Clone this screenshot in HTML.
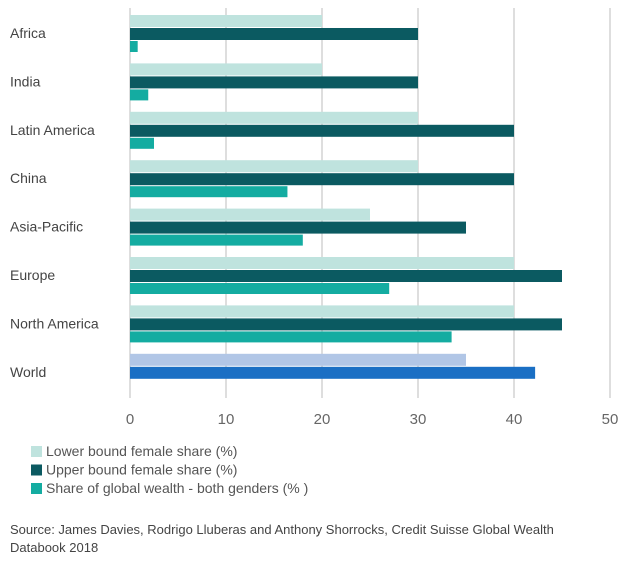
<!DOCTYPE html>
<html><head><meta charset="utf-8"><style>
body{margin:0;background:#fff;font-family:"Liberation Sans",sans-serif;}
svg text{font-family:"Liberation Sans",sans-serif;}
</style></head><body>
<svg id="c" width="636" height="562"></svg>
<script>
const categories=["Africa","India","Latin America","China","Asia-Pacific","Europe","North America","World"];
const lowerBound=[20,20,30,30,25,40,40,35];
const upperBound=[30,30,40,40,35,45,45,42.2];
const globalShare=[0.8,1.9,2.5,16.4,18,27,33.5,null];
const ticks=[0,10,20,30,40,50];
const NS="http://www.w3.org/2000/svg";
const svg=document.getElementById('c');
function x(v){return 130+v*9.6;}
function yc(i){return 33+i*48.4;}
function el(t,a,txt){const e=document.createElementNS(NS,t);for(const k in a)e.setAttribute(k,a[k]);if(txt!=null)e.textContent=txt;svg.appendChild(e);return e;}
ticks.forEach(t=>{
 const g=el('line',{x1:x(t),x2:x(t),y1:8,y2:398,stroke:'#bdbdbd','stroke-width':1});
 
 
 const l=el('text',{x:x(t),y:424,'text-anchor':'middle','font-size':15,fill:'#666'},t);
 
 
});
categories.forEach((c,i)=>{
 const cy=yc(i);
 const world=c==="World";
 const lab=el('text',{x:10,y:cy+5,'font-size':14,fill:'#444'},c);
 
 
 if(world){
  const b1=el('rect',{x:x(0),y:cy-18,width:x(lowerBound[i])-x(0),height:12,fill:'#b1c6e6'});
  
  
  const b2=el('rect',{x:x(0),y:cy-5,width:x(upperBound[i])-x(0),height:12,fill:'#1a6fc4'});
  
  
 } else {
  const b1=el('rect',{x:x(0),y:cy-18,width:x(lowerBound[i])-x(0),height:12,fill:'#bfe3de'});
  
  
  const b2=el('rect',{x:x(0),y:cy-5,width:x(upperBound[i])-x(0),height:12,fill:'#0b5a61'});
  
  
  const b3=el('rect',{x:x(0),y:cy+8,width:x(globalShare[i])-x(0),height:11,fill:'#14aca1'});
  
  
 }
});
const legend=[["Lower bound female share (%)","#bfe3de"],["Upper bound female share (%)","#0b5a61"],["Share of global wealth - both genders (% )","#14aca1"]];
legend.forEach((l,i)=>{
 const y=451+i*18.5;
 const s=el('rect',{x:31,y:y-5,width:11,height:11,fill:l[1]});
 
 
 const t=el('text',{x:46,y:y+5,'font-size':14,fill:'#555'},l[0]);
 
 
});
const s1=el('text',{x:10,y:534,'font-size':13,fill:'#444'},"Source: James Davies, Rodrigo Lluberas and Anthony Shorrocks, Credit Suisse Global Wealth");


const s2=el('text',{x:10,y:552,'font-size':13,fill:'#444'},"Databook 2018");


</script>
</body></html>
